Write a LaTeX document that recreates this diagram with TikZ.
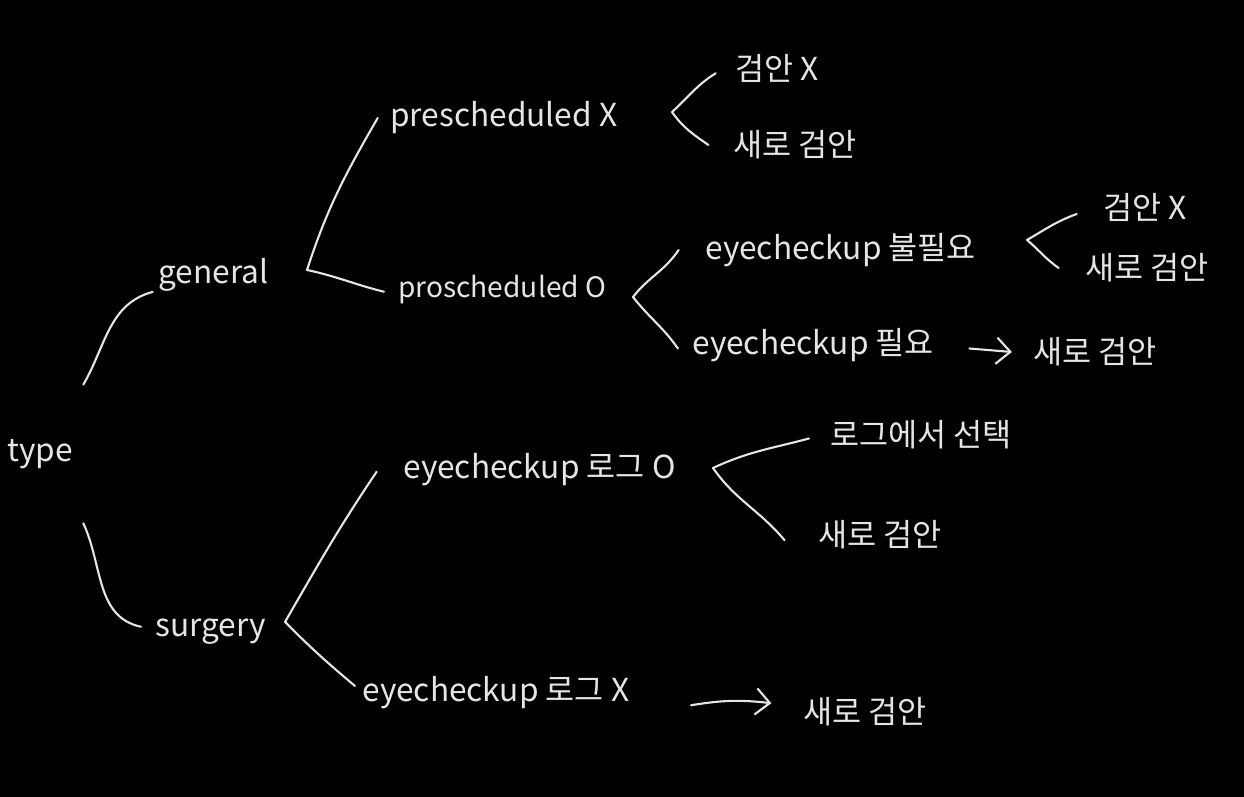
\documentclass[tikz,border=0pt]{standalone}
\usepackage{fontspec}
\setmainfont{Noto Sans CJK KR}
\usetikzlibrary{arrows.meta}
\begin{document}
\begin{tikzpicture}[x=0.02cm,y=0.02cm,line cap=round,line join=round,
	>={Straight Barb[length=8pt,width=15pt]},
	chalk/.style={color=white!90!black},
	lbl/.style={chalk,anchor=west,inner sep=0pt,font=\fontsize{18}{20}\selectfont},
	branch/.style={chalk,line width=1.2pt}]
			\fill[black] (0,0) rectangle (1244,797);
			\useasboundingbox (0,0) rectangle (1244,797);
			% labels
			\node[lbl,anchor=center,minimum width=1.72cm,minimum height=2.76cm] (type) at (40,343) {type};
			\node[lbl] (gen) at (158,522) {general};
			\node[lbl] (surg) at (155,165) {surgery};
			\node[lbl] (pre) at (390,679) {prescheduled X};
			\node[lbl] (pre1) at (735,729) {검안 X};
			\node[lbl] (pre2) at (733,652) {새로 검안};
			\node[lbl,font=\fontsize{16}{20}\selectfont] (pro) at (398,507) {proscheduled O};
			\node[lbl] (nonneed) at (705,547) {eyecheckup 불필요};
			\node[lbl] (nonneed1) at (1103,590) {검안 X};
			\node[lbl] (nonneed2) at (1085,529) {새로 검안};
			\node[lbl] (need) at (692,452) {eyecheckup 필요};
			\node[lbl] (need1) at (1033,445) {새로 검안};
			\node[lbl] (logo) at (403,327) {eyecheckup 로그 O};
			\node[lbl] (logo1) at (830,362) {로그에서 선택};
			\node[lbl] (logo2) at (818,262) {새로 검안};
			\node[lbl] (logx) at (362,104) {eyecheckup 로그 X};
			\node[lbl] (logx1) at (803,85) {새로 검안};
			% bracket corners
			\coordinate (vgen) at (307,527);
			\coordinate (vsurg) at (285,175);
			\coordinate (vpre) at (672,685);
			\coordinate (vpro) at (633,500);
			\coordinate (vnon) at (1027,557);
			\coordinate (vlogo) at (713,329);
			% branches
			\draw[branch] (type.north east) to[out=60,in=195] ([xshift=-3pt]gen.south west);
			\draw[branch] (type.south east) to[out=-65,in=168] ([xshift=-8pt,yshift=3pt]surg.west);
			\draw[branch] (vgen) to[out=72,in=240] ([xshift=-7pt]pre.west);
			\draw[branch] (vgen) to[out=-12,in=166] ([xshift=-8pt,yshift=-1pt]pro.west);
			\draw[branch] (vsurg) to[out=60,in=236] ([xshift=-15pt,yshift=-1pt]logo.west);
			\draw[branch] (vsurg) to[out=-45,in=140] ([xshift=-4pt,yshift=4pt]logx.west);
			\draw[branch] (vpre) to[out=42,in=212] ([xshift=-11pt,yshift=-3pt]pre1.west);
			\draw[branch] (vpre) to[out=-55,in=145] ([xshift=-14pt]pre2.west);
			\draw[branch] (vpro) to[out=52,in=236] ([xshift=-15pt]nonneed.west);
			\draw[branch] (vpro) to[out=-52,in=125] ([xshift=-8pt,yshift=-2pt]need.west);
			\draw[branch] (vnon) to[out=30,in=200] ([xshift=-15pt,yshift=-4pt]nonneed1.west);
			\draw[branch] (vnon) to[out=-40,in=145] ([xshift=-15pt]nonneed2.west);
			\draw[branch] (vlogo) to[out=25,in=195] ([xshift=-12pt,yshift=-2pt]logo1.west);
			\draw[branch] (vlogo) to[out=-55,in=130] ([xshift=-19pt,yshift=-3pt]logo2.west);
			\draw[branch,->] ([xshift=20pt,yshift=-2pt]need.east) -- ([xshift=-12pt]need1.west);
			\draw[branch,->] ([xshift=35pt,yshift=-7pt]logx.east) to[bend left=8] ([xshift=-18pt,yshift=5pt]logx1.west);
	\end{tikzpicture}
\end{document}
